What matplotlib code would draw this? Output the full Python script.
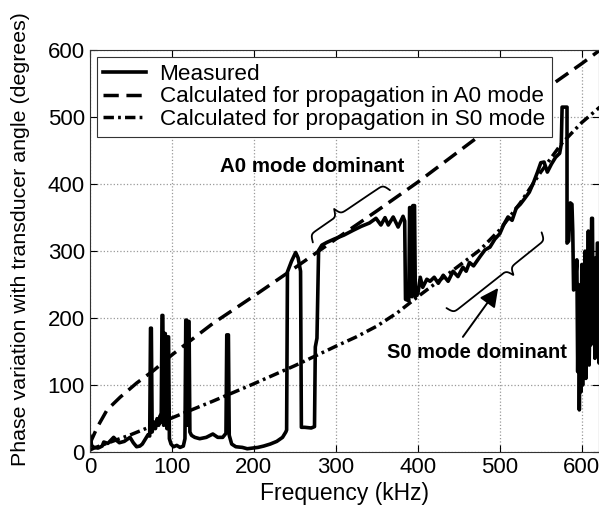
import numpy as np
import matplotlib
matplotlib.use("Agg")
import matplotlib.pyplot as plt

plt.rcParams['font.family'] = ['Liberation Sans', 'DejaVu Sans']

# measured phase variation (kHz, degrees)
meas_freq = [0, 1, 2, 5, 10, 15, 17, 22, 29, 33, 36, 42, 49, 53, 57, 61, 64, 68, 71, 73,
             74, 75, 76, 78, 80, 82, 84, 86, 87, 88, 89, 90, 91, 92, 93, 94, 95, 96, 97, 99,
             102, 106, 110, 114, 116, 117, 118, 119, 120, 121, 122, 124, 128, 134, 142, 150,
             156, 162, 166, 167, 169, 170, 173, 178, 186, 192, 198, 205, 212, 220, 228, 235,
             239, 240, 241, 246, 251, 254, 257, 258, 262, 270, 274, 275, 277, 279, 283, 289,
             298, 310, 321, 331, 341, 349, 355, 360, 364, 370, 376, 382, 384, 385, 389, 390,
             392, 393, 394, 396, 397, 400, 403, 406, 411, 415, 420, 425, 431, 437, 443, 449,
             455, 459, 463, 468, 476, 482, 488, 494, 500, 505, 510, 515, 520, 525, 530, 536,
             541, 546, 550, 554, 558, 563, 568, 573, 575, 576, 582, 582, 584, 586, 588, 589,
             590, 592, 594, 595, 596, 597, 598, 599, 600, 601, 602, 603, 604, 605, 606, 607,
             608, 609, 610, 611, 612, 613, 614, 615, 616, 617, 618, 619, 620, 621, 622]
meas_phase = [25, 22, 10, 7, 6, 9, 15, 13, 22, 17, 14, 16, 22, 14, 8, 9, 12, 20, 26, 24,
              185, 185, 30, 45, 35, 50, 40, 55, 45, 204, 204, 40, 177, 177, 50, 35, 172, 172, 20, 12,
              8, 10, 7, 9, 20, 197, 197, 40, 195, 195, 30, 25, 22, 20, 22, 27,
              22, 22, 28, 175, 175, 25, 12, 8, 7, 5, 6, 7, 9, 12, 16, 22,
              30, 33, 269, 285, 298, 290, 270, 37, 37, 36, 38, 157, 170, 301, 309, 313,
              318, 324, 331, 337, 342, 349, 339, 350, 339, 351, 336, 352, 345, 228, 226, 365,
              365, 232, 368, 368, 232, 236, 261, 246, 258, 255, 261, 252, 264, 255, 270, 262,
              276, 270, 283, 278, 292, 302, 306, 318, 326, 340, 351, 346, 364, 370, 378, 388,
              402, 418, 432, 433, 418, 430, 440, 446, 460, 515, 515, 312, 315, 372, 370, 330,
              242, 245, 287, 120, 250, 63, 200, 90, 280, 100, 240, 150, 300, 110, 260, 170,
              330, 130, 220, 160, 349, 349, 167, 250, 140, 290, 200, 312, 312, 133, 200]

# calculated A0 mode
a0_freq = [0, 2, 9, 21, 37, 57, 78, 100, 119, 150, 200, 250, 300, 350, 400, 450, 500, 550, 600, 622]
a0_phase = [10, 18, 37, 63, 82, 103, 122, 145, 163, 192, 233, 275, 318, 360, 403, 449, 495, 537, 580, 600]

# calculated S0 mode
s0_freq = [0, 5, 50, 100, 150, 200, 250, 300, 325, 350, 375, 400, 425, 450, 476, 500,
           525, 550, 575, 600, 622]
s0_phase = [3, 6, 26, 51, 76, 102, 129, 158, 172, 188, 208, 232, 255, 278, 302, 332,
            372, 418, 460, 492, 515]

x_ticks = [0, 100, 200, 300, 400, 500, 600]
y_ticks = [0, 100, 200, 300, 400, 500, 600]


def draw_brace(ax, p0, p1, height, tip_frac, side, lw=1.3):
    """Curly brace between two data points, built in display space."""
    a = ax.transData.transform(p0)
    b = ax.transData.transform(p1)
    d = b - a
    L = np.hypot(*d)
    u = d / L
    n = np.array([-u[1], u[0]]) * side
    s = np.linspace(0, L, 400)
    st = tip_frac * L
    beta = 0.7
    sig = lambda z: 1.0 / (1.0 + np.exp(-z))
    h = np.where(s <= st,
                 sig(beta * s) + sig(beta * (s - st)) - 0.5,
                 sig(beta * (L - s)) + sig(beta * (st - s)) - 0.5)
    pts = a + np.outer(s, u) + np.outer(h * height, n)
    data = ax.transData.inverted().transform(pts)
    ax.plot(data[:, 0], data[:, 1], color='k', lw=lw, solid_capstyle='round')


fig = plt.figure(figsize=(5.99, 5.12), dpi=100)
ax = fig.add_axes([0.150, 0.117, 0.850, 0.785])

ax.plot(meas_freq, meas_phase, color='k', lw=2.6, label='Measured')
ax.plot(a0_freq, a0_phase, color='k', lw=2.5, linestyle=(0, (4.4, 2.2)),
        label='Calculated for propagation in A0 mode')
ax.plot(s0_freq, s0_phase, color='k', lw=2.5, linestyle=(0, (3.0, 1.2, 0.8, 1.2)),
        label='Calculated for propagation in S0 mode')

ax.set_xlim(0, 621)
ax.set_ylim(0, 600)
ax.set_xticks(x_ticks)
ax.set_yticks(y_ticks)
ax.grid(True, linestyle=':', color='#999999', linewidth=0.9)
ax.tick_params(direction='in', top=True, right=True, labelsize=16, length=5, width=0.8)
for sp in ax.spines.values():
    sp.set_linewidth(0.8)
    sp.set_color('#333333')

ax.set_xlabel('Frequency (kHz)', fontsize=16.5, labelpad=3)
ax.set_ylabel('Phase variation with transducer angle (degrees)', fontsize=15.4)
ax.yaxis.set_label_coords(-0.118, 0.53)

leg = ax.legend(loc='upper left', fontsize=16.2, frameon=True, fancybox=False,
                edgecolor='#333333', framealpha=1, borderaxespad=0.3,
                handlelength=1.9, handletextpad=0.6, labelspacing=0.08, borderpad=0.3)
leg.get_frame().set_linewidth(0.8)

ax.text(271, 427, 'A0 mode dominant', fontsize=14.8, fontweight='bold',
        ha='center', va='center')
ax.text(472, 149, 'S0 mode dominant', fontsize=14.5, fontweight='bold',
        ha='center', va='center')

draw_brace(ax, (272, 313), (366, 391), 16, 0.39, +1)
draw_brace(ax, (435, 215), (551, 328), 16, 0.6, -1)

ax.annotate('', xy=(498, 245), xytext=(455, 172),
            arrowprops=dict(arrowstyle='-|>', color='k', lw=1.4, mutation_scale=28,
                            shrinkA=0, shrinkB=0))

fig.savefig('out.png', dpi=100)
